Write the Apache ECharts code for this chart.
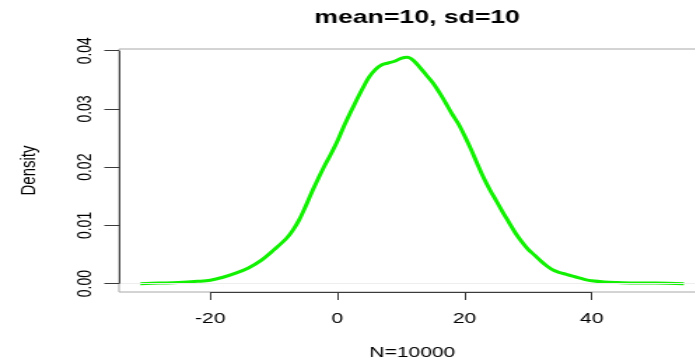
<!DOCTYPE html>
<html>
<head>
<meta charset="utf-8">
<script src="https://cdn.jsdelivr.net/npm/echarts@6/dist/echarts.min.js"></script>
<style>
html,body{margin:0;padding:0;background:#fff;overflow:hidden;width:695px;height:363px;}
#chart{width:497px;height:363px;transform:scaleX(1.4);transform-origin:0 0;}
</style>
</head>
<body>
<div id="chart"></div>
<script>
// ---- data ----
const titleText = 'mean=10, sd=10';
const xName = 'N=10000';
const yName = 'Density';
const xTicks = [-20, 0, 20, 40];
const yTicks = [0, 0.01, 0.02, 0.03, 0.04];
const xRange = [-34.36, 57.92];
const yRange = [-0.00143, 0.0403];
const densityX = [-31, -28, -25, -22, -20, -18, -16, -14, -12, -10, -8, -7, -6, -5, -4, -3, -2, -1, 0, 1, 2, 3, 4, 5, 6, 7, 8, 9, 10, 11, 12, 13, 14, 15, 16, 17, 18, 19, 20, 21, 22, 23, 24, 25, 26, 27, 28, 29, 30, 31, 32, 33, 34, 35, 36, 37, 38, 39, 40, 42, 44, 47, 50, 54.5];
const densityY = [0.0000, 0.0001, 0.0002, 0.0004, 0.0006, 0.0011, 0.0018, 0.0027, 0.0040, 0.0058, 0.0078, 0.0092, 0.0110, 0.0133, 0.0158, 0.0181, 0.0203, 0.0223, 0.0245, 0.0270, 0.0293, 0.0315, 0.0336, 0.0355, 0.0368, 0.0376, 0.0379, 0.0382, 0.0387, 0.0389, 0.0383, 0.0371, 0.0358, 0.0345, 0.0329, 0.0311, 0.0292, 0.0275, 0.0254, 0.0231, 0.0206, 0.0182, 0.0161, 0.0142, 0.0123, 0.0105, 0.0087, 0.0072, 0.0059, 0.0049, 0.0039, 0.0030, 0.0023, 0.0019, 0.0016, 0.0013, 0.0010, 0.0007, 0.0005, 0.0003, 0.0002, 0.0001, 0.0001, 0.0000];

const points = densityX.map((x, i) => [x, densityY[i]]);
const font = '"Liberation Sans", Arial, Helvetica, sans-serif';
const axisDark = '#3a3a3a';

const chart = echarts.init(document.getElementById('chart'), null, {renderer: 'canvas'});
chart.setOption({
  animation: false,
  backgroundColor: '#ffffff',
  title: {
    text: titleText,
    left: 293,
    top: 3,
    textAlign: 'center',
    textStyle: {fontFamily: font, fontSize: 19, fontWeight: 'bold', color: '#000'}
  },
  grid: {
    left: 85, right: -7, top: 49, bottom: 71,
    show: true, borderColor: '#a8a8a8', borderWidth: 1,
    containLabel: false, outerBoundsMode: 'none'
  },
  xAxis: {
    type: 'value',
    min: xRange[0], max: xRange[1],
    name: xName, nameLocation: 'middle', nameGap: 53,
    nameTextStyle: {fontFamily: font, fontSize: 15, color: '#000'},
    axisLine: {show: false, onZero: false},
    splitLine: {show: false},
    axisTick: {show: true, customValues: xTicks, length: 8, lineStyle: {color: axisDark, width: 1}},
    axisLabel: {customValues: xTicks, margin: 19, fontFamily: font, fontSize: 15, color: '#000',
      formatter: v => String(v)}
  },
  yAxis: {
    type: 'value',
    min: yRange[0], max: yRange[1],
    name: yName, nameLocation: 'middle', nameGap: 57, nameRotate: 90,
    nameTextStyle: {fontFamily: font, fontSize: 15, color: '#000'},
    axisLine: {show: false, onZero: false},
    splitLine: {show: false},
    axisTick: {show: true, customValues: yTicks, length: 10.5, lineStyle: {color: axisDark, width: 1}},
    axisLabel: {customValues: yTicks, rotate: 90, margin: 17, fontFamily: font, fontSize: 14, color: '#000',
      formatter: v => v.toFixed(2)}
  },
  series: [{
    type: 'line',
    data: points,
    smooth: 0.35,
    showSymbol: false,
    clip: false,
    lineStyle: {color: '#10f000', width: 3},
    markLine: {
      silent: true,
      symbol: ['none', 'none'],
      label: {show: false},
      animation: false,
      data: [
        [{coord: [xRange[0], 0], lineStyle: {color: '#eeeeee', width: 1, type: 'solid'}},
         {coord: [xRange[1], 0]}],
        [{coord: [xTicks[0], yRange[0]], lineStyle: {color: axisDark, width: 1, type: 'solid'}},
         {coord: [xTicks[xTicks.length - 1], yRange[0]]}],
        [{coord: [xRange[0], yTicks[0]], lineStyle: {color: axisDark, width: 1, type: 'solid'}},
         {coord: [xRange[0], yTicks[yTicks.length - 1]]}]
      ]
    }
  }]
});
</script>
</body>
</html>
